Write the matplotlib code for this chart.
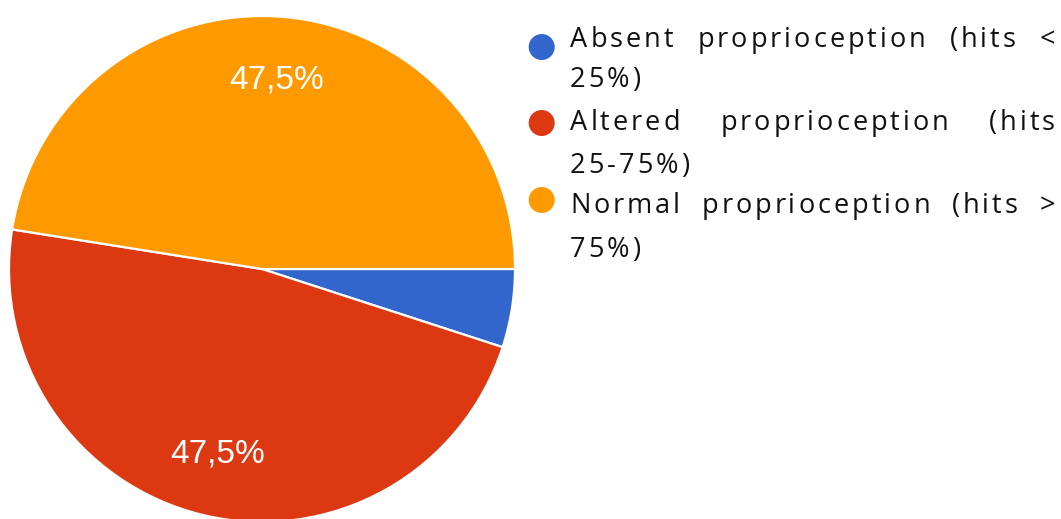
import matplotlib
matplotlib.use("Agg")
import matplotlib.pyplot as plt
from matplotlib.patches import Ellipse
from matplotlib.font_manager import FontProperties, findfont, get_font

# ---- data ----
categories = ["Absent proprioception (hits < 25%)",
              "Altered proprioception (hits 25-75%)",
              "Normal proprioception (hits > 75%)"]
shares = [5.0, 47.5, 47.5]
colors = ["#3366CC", "#DC3912", "#FF9900"]
# legend text as it wraps in the reference
legend_lines = [["Absent proprioception (hits <", "25%)"],
                ["Altered proprioception (hits", "25-75%)"],
                ["Normal proprioception (hits >", "75%)"]]

W, H = 1061, 519
fig = plt.figure(figsize=(W / 100, H / 100), dpi=100)

# pie: centre (262, 269) px from top-left, radius 253 px
cx, cy, r = 262, 269, 253
ax = fig.add_axes([(cx - r) / W, (H - cy - r) / H, 2 * r / W, 2 * r / H])


def pct(p):
    return "" if p < 10 else f"{p:.1f}%".replace(".", ",")


wedges, _, autotexts = ax.pie(shares, colors=colors, startangle=0, counterclock=False,
                              radius=1, autopct=pct, pctdistance=0.75,
                              wedgeprops=dict(edgecolor="white", linewidth=1.6),
                              textprops=dict(color="white", fontsize=24,
                                             family="Liberation Sans"))
ax.set_xlim(-1, 1); ax.set_ylim(-1, 1); ax.set_aspect("equal"); ax.axis("off")
for w in wedges:
    w.set_clip_on(False)

# ---- legend with letter spacing, first lines justified ----
FS = 19.5
prop = FontProperties(family="Open Sans", size=FS, weight="medium")
font = get_font(findfont(prop))
font.set_size(FS, 100)


def adv(ch):
    g = font.load_char(ord(ch))
    return g.linearHoriAdvance / 65536.0


TRACK = 3.0
X0, XRIGHT = 570, 1055
baselines = [[47, 87], [130, 173], [213, 257]]
dots_y = [47, 123, 200]

for i, (lines, bys) in enumerate(zip(legend_lines, baselines)):
    fig.add_artist(Ellipse((541.7 / W, 1 - dots_y[i] / H), 26 / W, 26 / H,
                           transform=fig.transFigure, color=colors[i], lw=0))
    for j, (line, by) in enumerate(zip(lines, bys)):
        widths = [adv(c) for c in line]
        natural = sum(widths) + TRACK * (len(line) - 1)
        extra = 0.0
        if j == 0:
            extra = (XRIGHT - X0 - natural) / line.count(" ")
        x = X0
        for c, wd in zip(line, widths):
            if c != " ":
                fig.text(x / W, 1 - by / H, c, fontproperties=prop, color="#111111",
                         ha="left", va="baseline")
            x += wd + TRACK + (extra if c == " " else 0)

fig.savefig("out.png", dpi=100, facecolor="white")
